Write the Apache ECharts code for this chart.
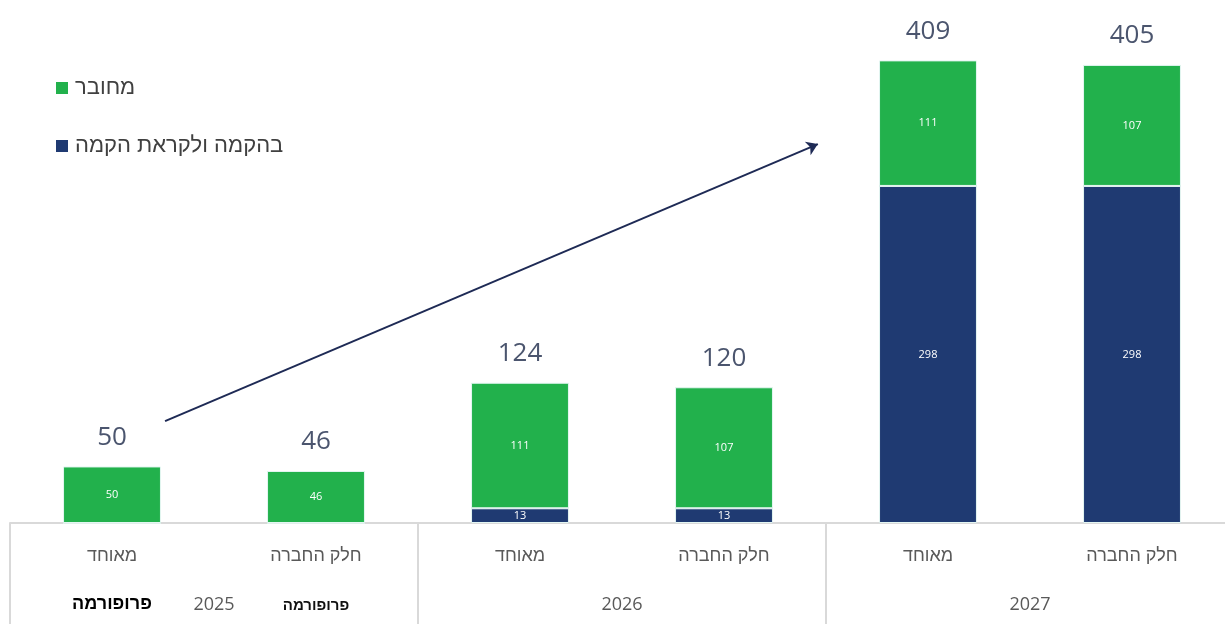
<!DOCTYPE html>
<html lang="he">
<head>
<meta charset="utf-8">
<title>מחובר / בהקמה ולקראת הקמה</title>
<script src="https://cdn.jsdelivr.net/npm/echarts@6/dist/echarts.min.js"></script>
<style>
  html, body { margin: 0; padding: 0; background: #ffffff; overflow: hidden; }
  /* the last category band runs a few pixels past the right edge of the view */
  #chart { width: 1234px; height: 624px; }
</style>
</head>
<body>
<div id="chart"></div>
<script>
// Sub-categories per year (consolidated / company share)
const categories = ['מאוחד', 'חלק החברה', 'מאוחד', 'חלק החברה', 'מאוחד', 'חלק החברה'];
const years = ['2025', '2026', '2027'];
// Connected capacity
const connected = [50, 46, 111, 107, 111, 107];
// Under construction / pre-construction
const construction = [0, 0, 13, 13, 298, 298];
// Pro-forma note under the 2025 bars
const proformaNote = ['פרופורמה', 'פרופורמה', '', '', '', ''];
const seriesNames = ['מחובר', 'בהקמה ולקראת הקמה'];
// Trend arrow endpoints: [category position, value]
const arrowStart = [0.26, 90];
const arrowEnd = [3.46, 335];

const totals = connected.map((v, i) => v + construction[i]);

const GREEN = '#22b14c';
const NAVY = '#1f3a72';
const HEB_FONT = '"Liberation Sans", "DejaVu Sans", sans-serif';
const NUM_FONT = '"Open Sans", "Liberation Sans", sans-serif';

const chart = echarts.init(document.getElementById('chart'), null, { renderer: 'canvas' });

const innerLabel = {
  show: true,
  position: 'inside',
  color: '#ffffff',
  fontSize: 11,
  fontFamily: NUM_FONT,
  formatter: p => (p.value ? String(p.value) : '')
};

chart.setOption({
  animation: false,
  backgroundColor: '#ffffff',
  grid: { left: 10, right: 0, top: 14, bottom: 101, containLabel: false },
  legend: {
    data: seriesNames,
    orient: 'vertical',
    left: 51,
    top: 72,
    itemWidth: 12,
    itemHeight: 12,
    itemGap: 36,
    icon: 'rect',
    itemStyle: { borderWidth: 0 },
    textStyle: { color: '#404040', fontSize: 22, fontFamily: HEB_FONT, padding: [0, 0, 0, 2] },
    selectedMode: false
  },
  xAxis: [
    {
      type: 'category',
      data: categories,
      axisLine: { show: true, lineStyle: { color: '#d9d9d9', width: 2 } },
      axisTick: { show: false },
      axisLabel: {
        interval: 0,
        margin: 9,
        formatter: (val, idx) => proformaNote[idx]
          ? '{a|' + val + '}\n{p' + idx + '|' + proformaNote[idx] + '}'
          : '{a|' + val + '}',
        rich: {
          a: { color: '#595959', fontSize: 18, fontFamily: HEB_FONT, lineHeight: 48 },
          p0: { color: '#000000', fontSize: 18, fontWeight: 'bold', fontFamily: HEB_FONT, lineHeight: 48 },
          p1: { color: '#111111', fontSize: 15, fontWeight: 'bold', fontFamily: HEB_FONT, lineHeight: 52 }
        }
      }
    },
    {
      type: 'category',
      data: years,
      position: 'bottom',
      axisLine: { show: false },
      axisTick: { show: true, length: 101, lineStyle: { color: '#d9d9d9', width: 2 } },
      axisLabel: { interval: 0, margin: 73, color: '#595959', fontSize: 18, fontFamily: NUM_FONT }
    },
    {
      type: 'value',
      min: -0.5,
      max: 5.5,
      show: false
    }
  ],
  yAxis: { type: 'value', min: 0, max: 450, show: false },
  series: [
    {
      name: seriesNames[1],
      type: 'bar',
      stack: 'total',
      barWidth: '48%',
      data: construction,
      itemStyle: { color: NAVY, borderColor: '#e4f6f2', borderWidth: 1 },
      label: innerLabel,
      emphasis: { disabled: true }
    },
    {
      name: seriesNames[0],
      type: 'bar',
      stack: 'total',
      data: connected,
      itemStyle: { color: GREEN, borderColor: '#e4f6f2', borderWidth: 1 },
      label: innerLabel,
      emphasis: { disabled: true }
    },
    {
      // zero-height cap carrying the stack totals
      name: 'total',
      type: 'bar',
      stack: 'total',
      data: totals.map(() => 0),
      itemStyle: { color: 'transparent' },
      label: {
        show: true,
        position: 'top',
        distance: 16,
        color: '#4b556e',
        fontSize: 26,
        fontFamily: NUM_FONT,
        formatter: p => String(totals[p.dataIndex])
      },
      emphasis: { disabled: true }
    },
    {
      // trend arrow
      name: 'trend',
      type: 'line',
      xAxisIndex: 2,
      data: [arrowStart, arrowEnd],
      showSymbol: false,
      lineStyle: { opacity: 0 },
      silent: true,
      markLine: {
        silent: true,
        animation: false,
        symbol: ['none', 'arrow'],
        symbolSize: 11,
        label: { show: false },
        lineStyle: { color: '#1e2a55', width: 2, type: 'solid' },
        emphasis: { disabled: true },
        data: [[{ coord: arrowStart }, { coord: arrowEnd }]]
      }
    }
  ]
});
</script>
</body>
</html>
